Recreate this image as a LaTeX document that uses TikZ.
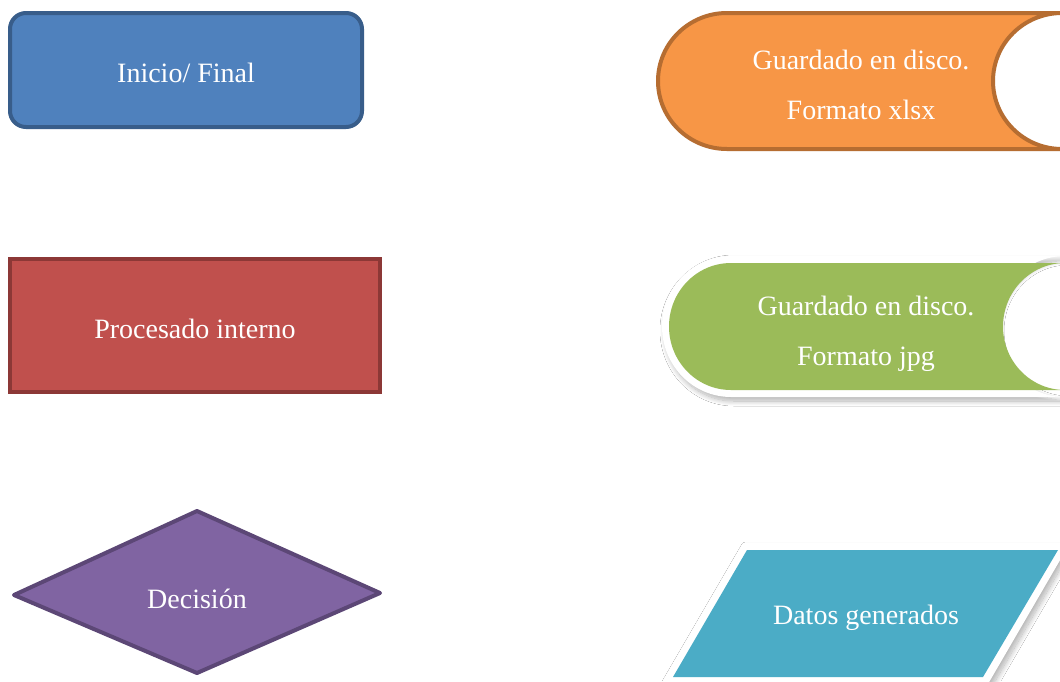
\documentclass[tikz,border=0pt]{standalone}
\usepackage{fontspec}
\setmainfont{Liberation Serif}
\usetikzlibrary{shadows.blur}
\definecolor{blueF}{HTML}{4F81BD}\definecolor{blueD}{HTML}{385D8A}
\definecolor{redF}{HTML}{C0504D}\definecolor{redD}{HTML}{8C3836}
\definecolor{purF}{HTML}{8064A2}\definecolor{purD}{HTML}{5C4776}
\definecolor{oraF}{HTML}{F79646}\definecolor{oraD}{HTML}{B66D31}
\definecolor{greF}{HTML}{9BBB59}
\definecolor{cyaF}{HTML}{4BACC6}
\tikzset{
  lbl/.style={text=white, font=\fontsize{28}{50}\selectfont, align=center, inner sep=0pt},
  boxline/.style={line width=4pt, line join=round},
  softshadow/.style={blur shadow={shadow xshift=3pt, shadow yshift=-4pt, shadow blur radius=5pt, shadow blur steps=16, shadow opacity=30}}
}
\begin{document}
\begin{tikzpicture}[x=1pt,y=1pt]
\useasboundingbox (0,0) rectangle (1060,-681);
\clip (0,0) rectangle (1060,-681);
\fill[white] (0,0) rectangle (1060,-681);
% Inicio/Final
\node[boxline, draw=blueD, fill=blueF, rounded corners=16pt, minimum width=352pt, minimum height=114pt, inner sep=0pt] (ini) at (186,-70) {};
\node[lbl] (initxt) at (186,-73) {Inicio/ Final};
% Procesado interno
\node[boxline, line join=miter, draw=redD, fill=redF, minimum width=370pt, minimum height=133pt, inner sep=0pt] (proc) at (195,-325.5) {};
\node[lbl] (proctxt) at (195,-329) {Procesado interno};
% Decision
\filldraw[boxline, draw=purD, fill=purF] (14,-595) -- (197,-511) -- (380,-593) -- (197,-673) -- cycle;
\node[lbl] (dec) at (197,-599) {Decisión};
% Orange stored data
\filldraw[boxline, draw=oraD, fill=oraF] (1062,-13) -- (727,-13)
  arc[start angle=90, end angle=270, x radius=69, y radius=68] -- (1062,-149)
  arc[start angle=270, end angle=90, x radius=69, y radius=68] -- cycle;
\node[lbl] (xlsx) at (861,-85) {Guardado en disco.\\Formato xlsx};
% Green stored data
\fill[white, softshadow] (1065,-256) -- (731,-256)
  arc[start angle=90, end angle=270, x radius=69, y radius=70.5] -- (1065,-397)
  arc[start angle=270, end angle=90, x radius=69, y radius=70.5] -- cycle;
\fill[greF] (1065,-263) -- (731,-263)
  arc[start angle=90, end angle=270, x radius=62, y radius=63.5] -- (1065,-390)
  arc[start angle=270, end angle=90, x radius=62, y radius=63.5] -- cycle;
\node[lbl] (jpg) at (866,-334) {Guardado en disco.\\Formato jpg};
% Cyan data
\fill[white, softshadow] (743,-543) -- (1070,-543) -- (988,-684) -- (661,-684) -- cycle;
\fill[cyaF] (747,-550) -- (1058,-550) -- (983,-677) -- (673,-677) -- cycle;
\node[lbl] (datos) at (866,-618) {Datos generados};
\end{tikzpicture}
\end{document}
